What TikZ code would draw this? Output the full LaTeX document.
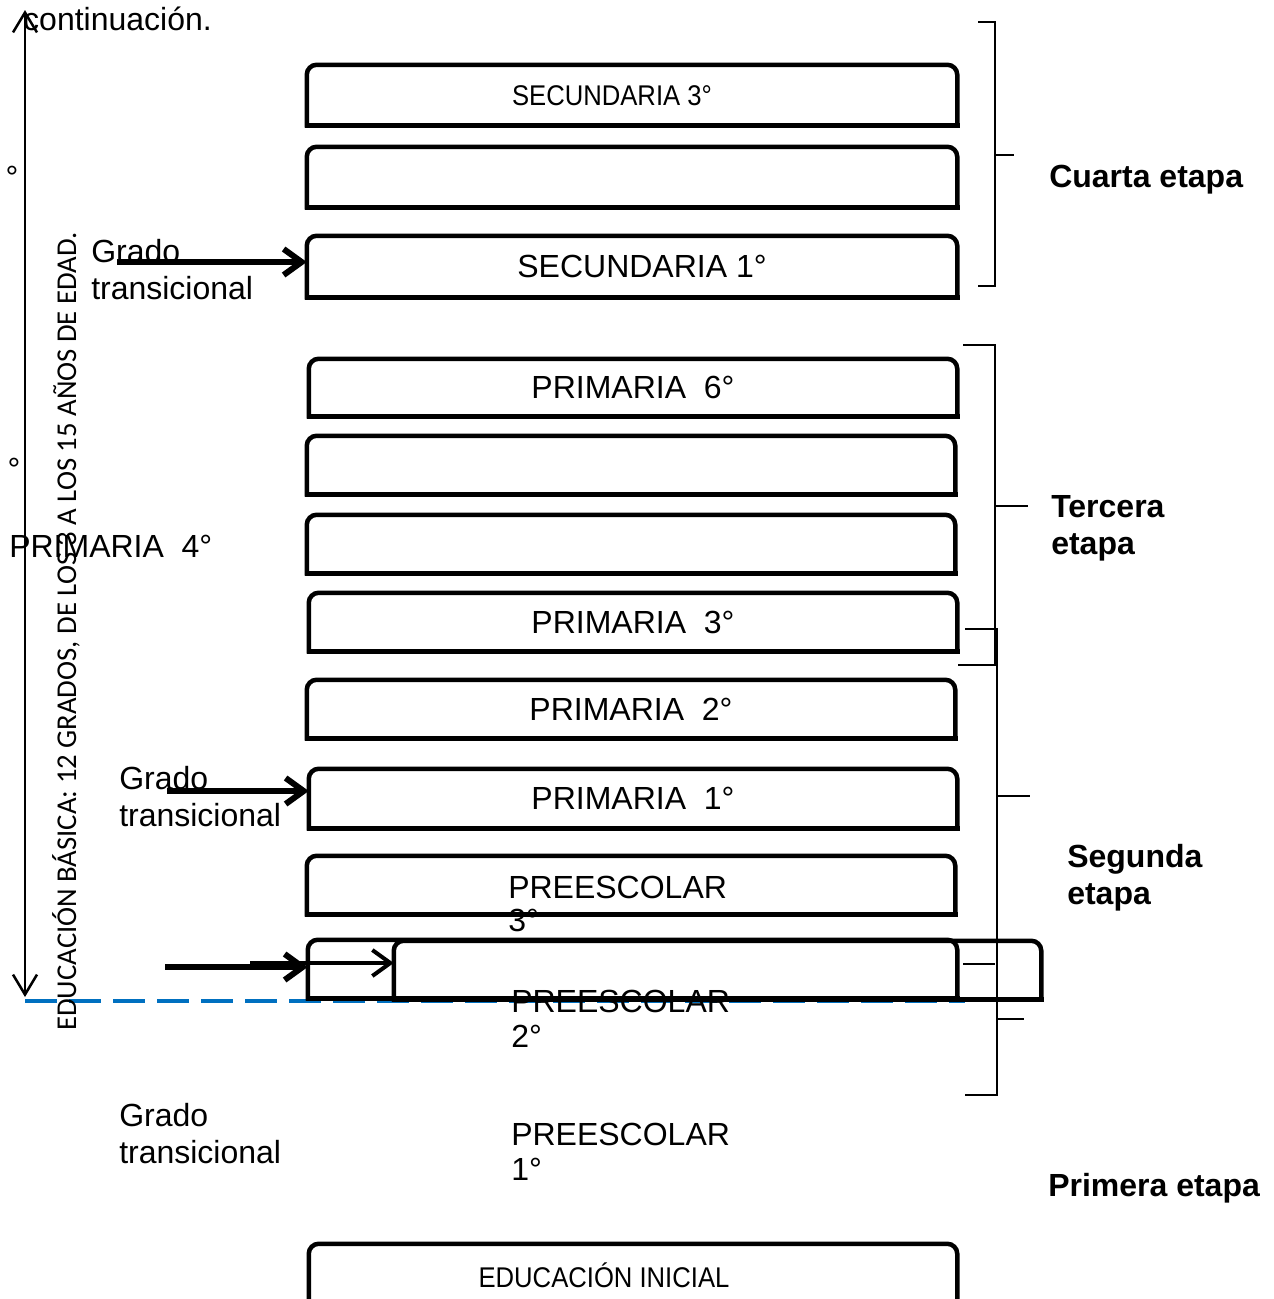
\documentclass[tikz,border=0pt]{standalone}
\usepackage{fontspec}
\setmainfont{Liberation Sans}
\newfontfamily\calibrifont{Carlito}
\newfontfamily\narrowfont[FakeStretch=0.9]{Liberation Sans}
\usetikzlibrary{arrows.meta}
\definecolor{basicblue}{RGB}{0,112,192}

\begin{document}
\begin{tikzpicture}[
		x=1pt, y=-1pt,
		line width=2.5pt,
		gradebox/.style={minimum width=646pt, minimum height=56pt, inner sep=0pt, font=\fontsize{32}{37}\selectfont},
		boxline/.style={line width=4.5pt, line cap=rect},
		txt/.style={inner sep=0pt, font=\fontsize{32}{37}\selectfont},
		smalltxt/.style={inner sep=0pt, font=\narrowfont\fontsize{28.5}{32}\selectfont},
		twoline/.style={txt, align=left, anchor=north west},
		stage/.style={inner sep=0pt, align=left, font=\bfseries\fontsize{32}{37}\selectfont},
		arrow/.style={-{Straight Barb[length=18pt, width=26pt]}, line width=6pt},
		dashline/.style={line width=4pt, color=basicblue, dash pattern=on 32pt off 12pt},
	]
		\useasboundingbox (0,0) rectangle (1274,1299);

		\coordinate (dashstart) at (25,1001);
		\coordinate (dashend) at (965,1001);
		\draw[dashline] (dashstart) -- (dashend);

		\node (sec3) [gradebox, minimum width=648pt, minimum height=58pt] at (632,95) {};
		\node (sec2) [gradebox, minimum width=648pt, minimum height=58pt] at (632,177) {};
		\node (sec1) [gradebox, minimum width=648pt, minimum height=59pt] at (632,266.5) {};
		\node (pri6) [gradebox, minimum height=55pt] at (633,387.5) {PRIMARIA\ \ 6°};
		\node (pri5) [gradebox] at (631,465) {};
		\node (pri4) [gradebox] at (631,544) {};
		\node (pri3) [gradebox] at (633,622) {PRIMARIA\ \ 3°};
		\node (pri2) [gradebox] at (631,709) {PRIMARIA\ \ 2°};
		\node (pri1) [gradebox, minimum height=57pt] at (633,798.5) {PRIMARIA\ \ 1°};
		\node (pre3) [gradebox] at (631,885) {};
		\node (pre2a) [gradebox, minimum width=647pt] at (632.5,969) {};
		\node (pre2b) [gradebox, minimum width=645pt] at (717.5,970) {};
		\node (inicial) [gradebox, minimum height=58pt] at (633,1274) {};

		% only the top corners are round
		\foreach \b in {sec3,sec2,sec1,pri6,pri5,pri4,pri3,pri2,pri1,pre3,pre2a,pre2b,inicial} {
			\draw[boxline, rounded corners=10pt] (\b.south west) -- (\b.north west) -- (\b.north east) -- (\b.south east);
			\draw[boxline] (\b.south west) -- (\b.south east);
		}

		\node (sec3txt) [smalltxt] at (612,96) {SECUNDARIA 3°};
		\node (sec1txt) [txt] at (642,266) {SECUNDARIA 1°};
		\node (initxt) [smalltxt] at (604,1275) {EDUCACIÓN INICIAL};
		\node (pre3txt) [twoline, font=\fontsize{32}{33}\selectfont] at (507,874.5) {PREESCOLAR\\3°};
		\node (pre2txt) [twoline, font=\fontsize{32}{35}\selectfont] at (510,988.5) {PREESCOLAR\\2°};
		\node (pre1txt) [twoline, font=\fontsize{32}{35}\selectfont] at (510,1121.5) {PREESCOLAR\\1°};
		\node (pri4txt) [txt, anchor=west] at (8,546) {PRIMARIA\ \ 4°};

		\node (gt1) [twoline] at (90,238.5) {Grado\\transicional};
		\node (gt2) [twoline] at (118,765.5) {Grado\\transicional};
		\node (gt3) [twoline] at (118,1102.5) {Grado\\transicional};

		\node (cont) [txt, anchor=base west] at (22,30) {continuación.};
		\node (deg1) [txt, anchor=base] at (12,188.5) {°};
		\node (deg2) [txt, anchor=base] at (14,480.5) {°};
		\node (ebtxt) [rotate=90, anchor=base west, inner sep=0pt, font=\calibrifont\fontsize{28.7}{34}\selectfont] at (76,1032) {EDUCACIÓN BÁSICA: 12 GRADOS, DE LOS 3 A LOS 15 AÑOS DE EDAD.};

		\coordinate (ebtop) at (25,10);
		\coordinate (ebbot) at (25,997);
		\draw[{Straight Barb[length=20pt, width=24pt]}-{Straight Barb[length=20pt, width=24pt]}, line width=2.5pt] (ebtop) -- (ebbot);

		\coordinate (g1) at (117,262);
		\draw[arrow] (g1) -- (g1 -| sec1.west);
		\coordinate (g2) at (167,791);
		\draw[arrow] (g2) -- (g2 -| pri1.west);
		\coordinate (g3) at (165,967);
		\draw[arrow] (g3) -- (g3 -| pre2a.west);
		\coordinate (g4) at (250,963);
		\draw[arrow, line width=4pt] (g4) -- (g4 -| pre2b.west);

		% etapas
		\draw (978,22) -- (995,22) -- (995,286) -- (978,286);
		\draw (995,155) -- (1014,155);
		\draw (963,345) -- (995,345) -- (995,665) -- (958,665);
		\draw (995,506) -- (1028,506);
		\draw (965,629) -- (997,629) -- (997,1095) -- (965,1095);
		\draw (997,796) -- (1030,796);
		\draw (963,964) -- (995,964);
		\draw (997,1019) -- (1024,1019);

		\node (cuarta) [stage, anchor=base west] at (1048,187.5) {Cuarta etapa};
		\node (tercera) [stage, anchor=north west] at (1050,494.5) {Tercera\\etapa};
		\node (segunda) [stage, anchor=north west] at (1066,843.5) {Segunda\\etapa};
		\node (primera) [stage, anchor=base west] at (1047,1196.5) {Primera etapa};
	\end{tikzpicture}
\end{document}
